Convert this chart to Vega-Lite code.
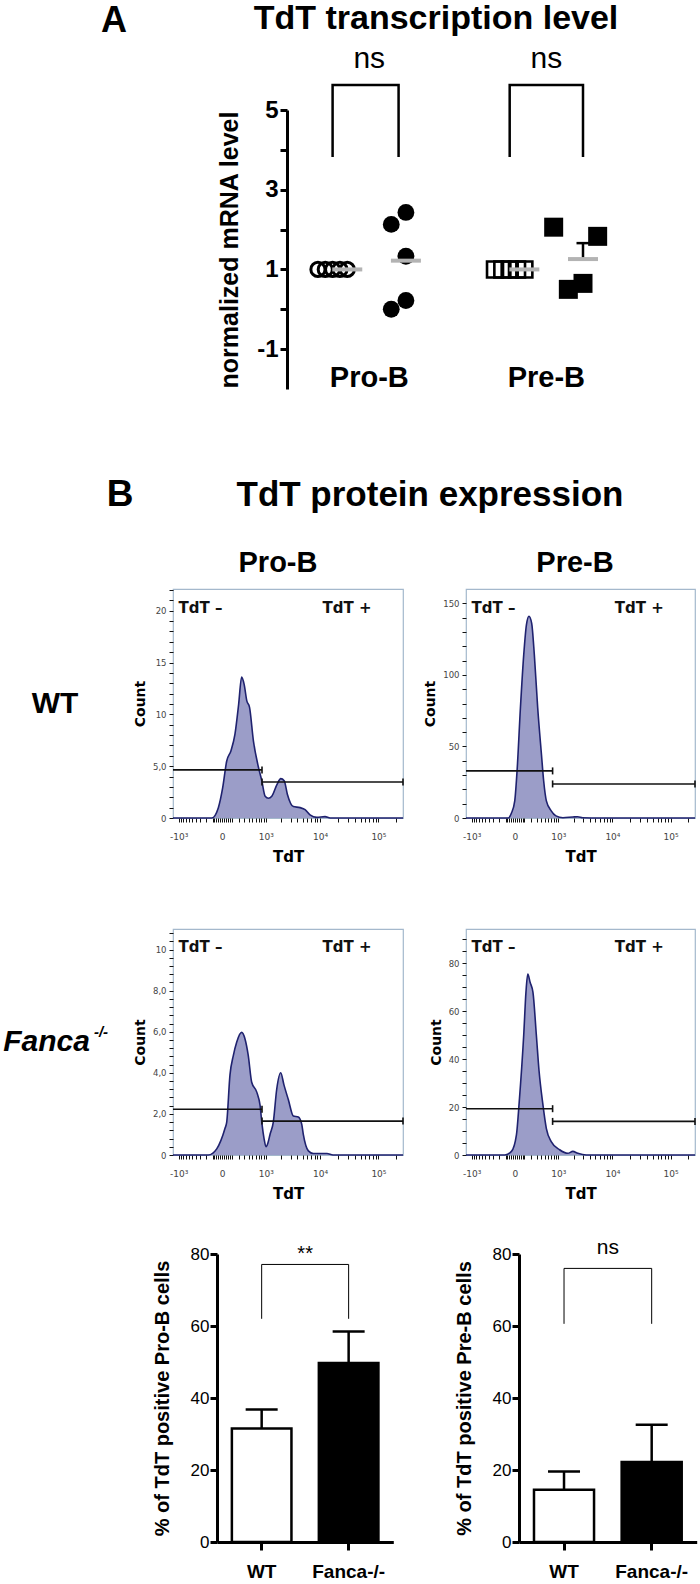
{
  "$schema": "https://vega.github.io/schema/vega-lite/v6.json",
  "padding": 0,
  "background": "white",
  "bounds": "full",
  "spacing": 0,
  "config": {
    "view": {"stroke": null},
    "font": "Liberation Sans",
    "axis": {"grid": false, "labelColor": "#000", "titleColor": "#000", "labelOverlap": false, "labelFlush": false},
    "text": {"color": "#000"}
  },
  "datasets": {
    "mrnaPts": [
      {"cell": "Pro-B", "geno": "WT", "slot": 0, "val": 1},
      {"cell": "Pro-B", "geno": "WT", "slot": 1, "val": 1},
      {"cell": "Pro-B", "geno": "WT", "slot": 2, "val": 1},
      {"cell": "Pro-B", "geno": "WT", "slot": 3, "val": 1},
      {"cell": "Pro-B", "geno": "WT", "slot": 4, "val": 1},
      {"cell": "Pro-B", "geno": "Fanca", "slot": 12, "val": 2.43},
      {"cell": "Pro-B", "geno": "Fanca", "slot": 10, "val": 2.13},
      {"cell": "Pro-B", "geno": "Fanca", "slot": 12, "val": 1.33},
      {"cell": "Pro-B", "geno": "Fanca", "slot": 12, "val": 0.22},
      {"cell": "Pro-B", "geno": "Fanca", "slot": 10, "val": 0.0},
      {"cell": "Pre-B", "geno": "WT", "slot": 0, "val": 1},
      {"cell": "Pre-B", "geno": "WT", "slot": 1, "val": 1},
      {"cell": "Pre-B", "geno": "WT", "slot": 2, "val": 1},
      {"cell": "Pre-B", "geno": "WT", "slot": 3, "val": 1},
      {"cell": "Pre-B", "geno": "WT", "slot": 4, "val": 1},
      {"cell": "Pre-B", "geno": "Fanca", "slot": 8, "val": 2.06},
      {"cell": "Pre-B", "geno": "Fanca", "slot": 14, "val": 1.83},
      {"cell": "Pre-B", "geno": "Fanca", "slot": 12, "val": 0.65},
      {"cell": "Pre-B", "geno": "Fanca", "slot": 10, "val": 0.5}
    ],
    "mrnaMean": [
      {"cell": "Pro-B", "geno": "WT", "slot": 4, "mean": 1, "upper": 1},
      {"cell": "Pro-B", "geno": "Fanca", "slot": 12, "mean": 1.22, "upper": 1.22},
      {"cell": "Pre-B", "geno": "WT", "slot": 4, "mean": 1, "upper": 1},
      {"cell": "Pre-B", "geno": "Fanca", "slot": 12, "mean": 1.26, "upper": 1.66}
    ],
    "mrnaBracket": [
      {"cell": "Pro-B", "slot": 2, "y": 3.82, "ord": 1},
      {"cell": "Pro-B", "slot": 2, "y": 5.63, "ord": 2},
      {"cell": "Pro-B", "slot": 11, "y": 5.63, "ord": 3},
      {"cell": "Pro-B", "slot": 11, "y": 3.82, "ord": 4},
      {"cell": "Pre-B", "slot": 2, "y": 3.82, "ord": 1},
      {"cell": "Pre-B", "slot": 2, "y": 5.63, "ord": 2},
      {"cell": "Pre-B", "slot": 12, "y": 5.63, "ord": 3},
      {"cell": "Pre-B", "slot": 12, "y": 3.82, "ord": 4}
    ],
    "hWTpro": [
      {"tdt": -1300, "count": 0}, {"tdt": -112, "count": 0}, {"tdt": -36, "count": 1.0}, {"tdt": 4, "count": 2.9},
      {"tdt": 43, "count": 5.5}, {"tdt": 91, "count": 6.5}, {"tdt": 144, "count": 8.1}, {"tdt": 201, "count": 11.0},
      {"tdt": 253, "count": 13.6}, {"tdt": 302, "count": 12.9}, {"tdt": 360, "count": 11.3}, {"tdt": 424, "count": 10.7},
      {"tdt": 533, "count": 7.4}, {"tdt": 695, "count": 4.9}, {"tdt": 823, "count": 3.6}, {"tdt": 970, "count": 2.1},
      {"tdt": 1133, "count": 1.9}, {"tdt": 1323, "count": 2.1}, {"tdt": 1659, "count": 3.2}, {"tdt": 1975, "count": 3.8},
      {"tdt": 2290, "count": 3.6}, {"tdt": 2620, "count": 2.3}, {"tdt": 3375, "count": 1.1}, {"tdt": 4450, "count": 1.0},
      {"tdt": 5460, "count": 0.8}, {"tdt": 6680, "count": 0.3}, {"tdt": 8740, "count": 0.06}, {"tdt": 12200, "count": 0.13},
      {"tdt": 14900, "count": 0}, {"tdt": 262144, "count": 0}
    ],
    "hWTpre": [
      {"tdt": -1300, "count": 0}, {"tdt": -69, "count": 0}, {"tdt": -33, "count": 3.5}, {"tdt": -2, "count": 12},
      {"tdt": 19, "count": 33}, {"tdt": 53, "count": 77}, {"tdt": 91, "count": 114}, {"tdt": 126, "count": 135},
      {"tdt": 163, "count": 141}, {"tdt": 206, "count": 136}, {"tdt": 253, "count": 114}, {"tdt": 320, "count": 77},
      {"tdt": 406, "count": 44.5}, {"tdt": 463, "count": 26}, {"tdt": 540, "count": 12}, {"tdt": 700, "count": 5},
      {"tdt": 888, "count": 1.5}, {"tdt": 1240, "count": 0.2}, {"tdt": 1934, "count": 0.7}, {"tdt": 2400, "count": 0.9},
      {"tdt": 2950, "count": 0.2}, {"tdt": 6000, "count": 0}, {"tdt": 262144, "count": 0}
    ],
    "hFApro": [
      {"tdt": -1300, "count": 0}, {"tdt": -160, "count": 0}, {"tdt": -53, "count": 0.3}, {"tdt": 26, "count": 1.3},
      {"tdt": 43, "count": 1.6}, {"tdt": 79, "count": 3.9}, {"tdt": 121, "count": 4.84}, {"tdt": 169, "count": 5.49},
      {"tdt": 253, "count": 5.97}, {"tdt": 320, "count": 5.65}, {"tdt": 394, "count": 4.84}, {"tdt": 482, "count": 3.54},
      {"tdt": 637, "count": 3.06}, {"tdt": 757, "count": 2.4}, {"tdt": 832, "count": 1.5}, {"tdt": 920, "count": 0.8},
      {"tdt": 1011, "count": 0.4}, {"tdt": 1110, "count": 0.6}, {"tdt": 1220, "count": 1.0}, {"tdt": 1418, "count": 1.6},
      {"tdt": 1652, "count": 3.2}, {"tdt": 1970, "count": 4.0}, {"tdt": 2272, "count": 3.4}, {"tdt": 2728, "count": 2.7},
      {"tdt": 3367, "count": 1.9}, {"tdt": 4144, "count": 1.85}, {"tdt": 4762, "count": 1.5}, {"tdt": 5084, "count": 1.0},
      {"tdt": 6238, "count": 0.2}, {"tdt": 7637, "count": 0.07}, {"tdt": 13165, "count": 0.07}, {"tdt": 16761, "count": 0},
      {"tdt": 262144, "count": 0}
    ],
    "hFApre": [
      {"tdt": -1300, "count": 0}, {"tdt": -109, "count": 0}, {"tdt": -33, "count": 1.5}, {"tdt": 13, "count": 8.4},
      {"tdt": 40, "count": 22}, {"tdt": 91, "count": 50}, {"tdt": 120, "count": 68}, {"tdt": 145, "count": 75.4},
      {"tdt": 180, "count": 72}, {"tdt": 228, "count": 67.8}, {"tdt": 292, "count": 50}, {"tdt": 350, "count": 35},
      {"tdt": 435, "count": 22}, {"tdt": 540, "count": 11}, {"tdt": 700, "count": 5.6}, {"tdt": 1060, "count": 2.2},
      {"tdt": 1551, "count": 0.7}, {"tdt": 1934, "count": 1.5}, {"tdt": 2400, "count": 0.7}, {"tdt": 3422, "count": 0},
      {"tdt": 262144, "count": 0}
    ],
    "gWTpro": [{"gate": "TdT –", "tdt": -1300, "tdt2": 832, "count": 4.64}, {"gate": "TdT +", "tdt": 832, "tdt2": 262144, "count": 3.48}],
    "gWTpre": [{"gate": "TdT –", "tdt": -1300, "tdt2": 752, "count": 32.9}, {"gate": "TdT +", "tdt": 752, "tdt2": 262144, "count": 23.8}],
    "gFApro": [{"gate": "TdT –", "tdt": -1300, "tdt2": 832, "count": 2.23}, {"gate": "TdT +", "tdt": 832, "tdt2": 262144, "count": 1.65}],
    "gFApre": [{"gate": "TdT –", "tdt": -1300, "tdt2": 752, "count": 19.3}, {"gate": "TdT +", "tdt": 752, "tdt2": 262144, "count": 14.0}],
    "cWTpro": [{"tdt": 832, "count": 4.64}, {"tdt": 832, "count": 3.48}, {"tdt": 262144, "count": 3.48}],
    "cWTpre": [{"tdt": 752, "count": 32.9}, {"tdt": 752, "count": 23.8}, {"tdt": 262144, "count": 23.8}],
    "cFApro": [{"tdt": 832, "count": 2.23}, {"tdt": 832, "count": 1.65}, {"tdt": 262144, "count": 1.65}],
    "cFApre": [{"tdt": 752, "count": 19.3}, {"tdt": 752, "count": 14.0}, {"tdt": 262144, "count": 14.0}],
    "lWTpro": [{"t": "TdT –", "tdt": -1000, "count": 20.3}, {"t": "TdT +", "tdt": 11000, "count": 20.3}],
    "lWTpre": [{"t": "TdT –", "tdt": -1000, "count": 146.5}, {"t": "TdT +", "tdt": 11000, "count": 146.5}],
    "lFApro": [{"t": "TdT –", "tdt": -1000, "count": 10.1}, {"t": "TdT +", "tdt": 11000, "count": 10.1}],
    "lFApre": [{"t": "TdT –", "tdt": -1000, "count": 86.7}, {"t": "TdT +", "tdt": 11000, "count": 86.7}],
    "barsPro": [{"geno": "WT", "mean": 31.5, "upper": 36.8}, {"geno": "Fanca-/-", "mean": 49.7, "upper": 58.5}],
    "barsPre": [{"geno": "WT", "mean": 14.5, "upper": 19.6}, {"geno": "Fanca-/-", "mean": 22.2, "upper": 32.6}]
  },
  "vconcat": [
    {
      "hconcat": [
        {"width": 228, "height": 42, "data": {"values": [{"t": "A"}]}, "mark": {"type": "text", "fontSize": 36, "fontWeight": "bold"}, "encoding": {"text": {"field": "t"}}},
        {
          "vconcat": [
            {"width": 416, "height": 38, "data": {"values": [{"t": "TdT transcription level"}]}, "mark": {"type": "text", "fontSize": 34, "fontWeight": "bold"}, "encoding": {"text": {"field": "t"}}},
            {"width": 1, "height": 72, "data": {"values": []}, "mark": {"type": "point", "opacity": 0}},
            {
              "hconcat": [
                {"width": 59, "height": 1, "data": {"values": []}, "mark": {"type": "point", "opacity": 0}},
                {
                  "width": 341.6, "height": 279,
                  "encoding": {
                    "x": {"field": "cell", "type": "nominal", "title": null,
                      "scale": {"type": "band", "domain": ["Pro-B", "Pre-B"], "paddingInner": 0.379, "paddingOuter": 0.154},
                      "axis": {"orient": "bottom", "domain": false, "ticks": false, "tickSize": 0, "labelPadding": 0, "offset": -12, "labelBaseline": "middle", "labelFontSize": 29, "labelFontWeight": "bold", "labelAngle": 0, "title": null}}
                  },
                  "layer": [
                    {"data": {"name": "mrnaPts"}, "transform": [{"filter": "datum.cell == 'Pro-B' && datum.geno == 'WT'"}],
                      "mark": {"type": "point", "shape": "circle", "filled": false, "stroke": "#000", "strokeWidth": 3, "size": 200, "opacity": 1},
                      "encoding": {
                        "xOffset": {"field": "slot", "type": "ordinal", "scale": {"domain": [0,1,2,3,4,5,6,7,8,9,10,11,12,13,14], "paddingInner": 0, "paddingOuter": 0}},
                        "y": {"field": "val", "type": "quantitative", "title": "normalized mRNA level", "scale": {"domain": [-2, 5], "nice": false, "zero": false},
                          "axis": {"values": [-1,0,1,2,3,4,5], "labelExpr": "datum.value % 2 != 0 ? (datum.value < 0 ? '-1' : datum.label) : ''", "domainColor": "#000", "domainWidth": 3, "tickColor": "#000", "tickWidth": 3, "tickSize": 7, "labelFontSize": 24, "labelFontWeight": "bold", "labelPadding": 2, "title": "normalized mRNA level", "titleFontSize": 25, "titleFontWeight": "bold", "titlePadding": 14}}
                      }},
                    {"data": {"name": "mrnaPts"}, "transform": [{"filter": "datum.cell == 'Pro-B' && datum.geno == 'Fanca'"}],
                      "mark": {"type": "point", "shape": "circle", "filled": true, "fill": "#000", "size": 283, "opacity": 1},
                      "encoding": {"xOffset": {"field": "slot", "type": "ordinal"}, "y": {"field": "val", "type": "quantitative", "title": "normalized mRNA level"}}},
                    {"data": {"name": "mrnaPts"}, "transform": [{"filter": "datum.cell == 'Pre-B' && datum.geno == 'WT'"}],
                      "mark": {"type": "point", "shape": "square", "filled": false, "stroke": "#000", "strokeWidth": 2.6, "size": 256, "opacity": 1},
                      "encoding": {"xOffset": {"field": "slot", "type": "ordinal"}, "y": {"field": "val", "type": "quantitative", "title": "normalized mRNA level"}}},
                    {"data": {"name": "mrnaPts"}, "transform": [{"filter": "datum.cell == 'Pre-B' && datum.geno == 'Fanca'"}],
                      "mark": {"type": "point", "shape": "square", "filled": true, "fill": "#000", "size": 361, "opacity": 1},
                      "encoding": {"xOffset": {"field": "slot", "type": "ordinal"}, "y": {"field": "val", "type": "quantitative", "title": "normalized mRNA level"}}},
                    {"data": {"name": "mrnaMean"}, "transform": [{"filter": "datum.upper > datum.mean"}],
                      "mark": {"type": "rule", "color": "#000", "strokeWidth": 2.5},
                      "encoding": {"xOffset": {"field": "slot", "type": "ordinal"}, "y": {"field": "mean", "type": "quantitative", "title": "normalized mRNA level"}, "y2": {"field": "upper"}}},
                    {"data": {"name": "mrnaMean"}, "transform": [{"filter": "datum.upper > datum.mean"}],
                      "mark": {"type": "tick", "color": "#000", "thickness": 2.5, "size": 13, "opacity": 1},
                      "encoding": {"xOffset": {"field": "slot", "type": "ordinal"}, "y": {"field": "upper", "type": "quantitative", "title": "normalized mRNA level"}}},
                    {"data": {"name": "mrnaMean"},
                      "mark": {"type": "tick", "color": "#b3b3b3", "thickness": 4, "size": 30, "opacity": 1},
                      "encoding": {"xOffset": {"field": "slot", "type": "ordinal"}, "y": {"field": "mean", "type": "quantitative", "title": "normalized mRNA level"}}},
                    {"data": {"name": "mrnaBracket"},
                      "mark": {"type": "line", "color": "#000", "strokeWidth": 2.5},
                      "encoding": {"xOffset": {"field": "slot", "type": "ordinal"}, "y": {"field": "y", "type": "quantitative", "title": "normalized mRNA level"}, "detail": {"field": "cell"}, "order": {"field": "ord"}}},
                    {"data": {"values": [{"cell": "Pro-B", "t": "ns"}, {"cell": "Pre-B", "t": "ns"}]},
                      "mark": {"type": "text", "fontSize": 30},
                      "encoding": {"y": {"datum": 6.27, "type": "quantitative", "title": "normalized mRNA level"}, "text": {"field": "t"}}}
                  ]
                }
              ],
              "spacing": 0, "bounds": "flush"
            }
          ],
          "spacing": 0, "bounds": "flush"
        },
        {"width": 1, "height": 476, "data": {"values": []}, "mark": {"type": "point", "opacity": 0}}
      ],
      "spacing": 0, "bounds": "flush"
    },
    {
      "hconcat": [
        {"width": 240, "height": 38, "data": {"values": [{"t": "B"}]}, "mark": {"type": "text", "fontSize": 37, "fontWeight": "bold"}, "encoding": {"text": {"field": "t"}}},
        {"width": 380, "height": 38, "data": {"values": [{"t": "TdT protein expression"}]}, "mark": {"type": "text", "fontSize": 35, "fontWeight": "bold"}, "encoding": {"text": {"field": "t"}}},
        {"width": 1, "height": 72, "data": {"values": []}, "mark": {"type": "point", "opacity": 0}}
      ],
      "spacing": 0, "bounds": "flush"
    },
    {
      "hconcat": [
        {"width": 556, "height": 30, "data": {"values": [{"t": "Pro-B"}]}, "mark": {"type": "text", "fontSize": 29, "fontWeight": "bold"}, "encoding": {"text": {"field": "t"}}},
        {"width": 38, "height": 30, "data": {"values": [{"t": "Pre-B"}]}, "mark": {"type": "text", "fontSize": 29, "fontWeight": "bold"}, "encoding": {"text": {"field": "t"}}},
        {"width": 1, "height": 37, "data": {"values": []}, "mark": {"type": "point", "opacity": 0}}
      ],
      "spacing": 0, "bounds": "flush"
    },
    {
      "hconcat": [
        {"width": 110, "height": 229, "data": {"values": [{"t": "WT"}]}, "mark": {"type": "text", "fontSize": 30, "fontWeight": "bold"}, "encoding": {"text": {"field": "t"}}},
        {"width": 63, "height": 1, "data": {"values": []}, "mark": {"type": "point", "opacity": 0}},
        {
          "width": 230, "height": 229,
          "view": {"stroke": "#a4b8cc", "strokeWidth": 1.2},
          "encoding": {
            "x": {"field": "tdt", "type": "quantitative", "title": "TdT", "scale": {"type": "symlog", "constant": 222, "domain": [-1300, 262144], "nice": false, "zero": false},
              "axis": {"title": "TdT", "titleFont": "DejaVu Sans", "titleFontSize": 15, "titleFontWeight": "bold", "titlePadding": 8,
                "values": [-1000,-900,-800,-700,-600,-500,-400,-300,-200,-100,-80,-60,-40,-20,0,20,40,60,80,100,200,300,400,500,600,700,800,900,1000,2000,3000,4000,5000,6000,7000,8000,9000,10000,20000,30000,40000,50000,60000,70000,80000,90000,100000,200000],
                "labelExpr": "datum.value == -1000 ? '-10³' : datum.value == 0 ? '0' : datum.value == 1000 ? '10³' : datum.value == 10000 ? '10⁴' : datum.value == 100000 ? '10⁵' : ''",
                "labelFont": "DejaVu Sans", "labelFontSize": 9, "labelColor": "#444", "labelPadding": 10, "labelOverlap": false,
                "domain": false, "tickColor": "#111", "tickWidth": 1, "tickSize": 4}},
            "y": {"field": "count", "type": "quantitative", "title": "Count", "scale": {"domain": [0, 22.1], "nice": false},
              "axis": {"title": "Count", "titleFont": "DejaVu Sans", "titleFontSize": 14, "titleFontWeight": "bold", "titlePadding": 5,
                "values": [0,1,2,3,4,5,6,7,8,9,10,11,12,13,14,15,16,17,18,19,20,21,22],
                "labelExpr": "datum.value == 5 ? '5,0' : (datum.value % 5 == 0 ? datum.label : '')",
                "labelFont": "DejaVu Sans", "labelFontSize": 8.5, "labelColor": "#444", "labelPadding": 3, "labelOverlap": false,
                "domain": false, "tickColor": "#111", "tickWidth": 1, "tickSize": 4}}
          },
          "layer": [
            {"data": {"name": "hWTpro"}, "mark": {"type": "area", "interpolate": "monotone", "color": "#9b9dc8", "opacity": 1, "line": {"color": "#1f226f", "strokeWidth": 1.6}}},
            {"data": {"name": "gWTpro"}, "mark": {"type": "rule", "color": "#111", "strokeWidth": 1.6}, "encoding": {"x2": {"field": "tdt2"}}},
            {"data": {"name": "cWTpro"}, "mark": {"type": "tick", "orient": "vertical", "color": "#111", "thickness": 1.6, "size": 7, "opacity": 1}},
            {"data": {"name": "lWTpro"}, "mark": {"type": "text", "font": "DejaVu Sans", "fontWeight": "bold", "fontSize": 15, "align": "left", "color": "#111"}, "encoding": {"text": {"field": "t"}}}
          ]
        },
        {"width": 63, "height": 1, "data": {"values": []}, "mark": {"type": "point", "opacity": 0}},
        {
          "width": 229, "height": 229,
          "view": {"stroke": "#a4b8cc", "strokeWidth": 1.2},
          "encoding": {
            "x": {"field": "tdt", "type": "quantitative", "title": "TdT", "scale": {"type": "symlog", "constant": 222, "domain": [-1300, 262144], "nice": false, "zero": false},
              "axis": {"title": "TdT", "titleFont": "DejaVu Sans", "titleFontSize": 15, "titleFontWeight": "bold", "titlePadding": 8,
                "values": [-1000,-900,-800,-700,-600,-500,-400,-300,-200,-100,-80,-60,-40,-20,0,20,40,60,80,100,200,300,400,500,600,700,800,900,1000,2000,3000,4000,5000,6000,7000,8000,9000,10000,20000,30000,40000,50000,60000,70000,80000,90000,100000,200000],
                "labelExpr": "datum.value == -1000 ? '-10³' : datum.value == 0 ? '0' : datum.value == 1000 ? '10³' : datum.value == 10000 ? '10⁴' : datum.value == 100000 ? '10⁵' : ''",
                "labelFont": "DejaVu Sans", "labelFontSize": 9, "labelColor": "#444", "labelPadding": 10, "labelOverlap": false,
                "domain": false, "tickColor": "#111", "tickWidth": 1, "tickSize": 4}},
            "y": {"field": "count", "type": "quantitative", "title": "Count", "scale": {"domain": [0, 160], "nice": false},
              "axis": {"title": "Count", "titleFont": "DejaVu Sans", "titleFontSize": 14, "titleFontWeight": "bold", "titlePadding": 5,
                "values": [0,10,20,30,40,50,60,70,80,90,100,110,120,130,140,150],
                "labelExpr": "datum.value % 50 == 0 ? datum.label : ''",
                "labelFont": "DejaVu Sans", "labelFontSize": 8.5, "labelColor": "#444", "labelPadding": 3, "labelOverlap": false,
                "domain": false, "tickColor": "#111", "tickWidth": 1, "tickSize": 4}}
          },
          "layer": [
            {"data": {"name": "hWTpre"}, "mark": {"type": "area", "interpolate": "monotone", "color": "#9b9dc8", "opacity": 1, "line": {"color": "#1f226f", "strokeWidth": 1.6}}},
            {"data": {"name": "gWTpre"}, "mark": {"type": "rule", "color": "#111", "strokeWidth": 1.6}, "encoding": {"x2": {"field": "tdt2"}}},
            {"data": {"name": "cWTpre"}, "mark": {"type": "tick", "orient": "vertical", "color": "#111", "thickness": 1.6, "size": 7, "opacity": 1}},
            {"data": {"name": "lWTpre"}, "mark": {"type": "text", "font": "DejaVu Sans", "fontWeight": "bold", "fontSize": 15, "align": "left", "color": "#111"}, "encoding": {"text": {"field": "t"}}}
          ]
        },
        {"width": 1, "height": 339, "data": {"values": []}, "mark": {"type": "point", "opacity": 0}}
      ],
      "spacing": 0, "bounds": "flush"
    },
    {
      "hconcat": [
        {"width": 93, "height": 226, "data": {"values": [{"t": "Fanca"}]}, "mark": {"type": "text", "fontSize": 30, "fontWeight": "bold", "fontStyle": "italic"}, "encoding": {"text": {"field": "t"}}},
        {"width": 16, "height": 206, "data": {"values": [{"t": "-/-"}]}, "mark": {"type": "text", "fontSize": 15, "fontWeight": "bold", "fontStyle": "italic"}, "encoding": {"text": {"field": "t"}}},
        {"width": 64, "height": 1, "data": {"values": []}, "mark": {"type": "point", "opacity": 0}},
        {
          "width": 230, "height": 226,
          "view": {"stroke": "#a4b8cc", "strokeWidth": 1.2},
          "encoding": {
            "x": {"field": "tdt", "type": "quantitative", "title": "TdT", "scale": {"type": "symlog", "constant": 222, "domain": [-1300, 262144], "nice": false, "zero": false},
              "axis": {"title": "TdT", "titleFont": "DejaVu Sans", "titleFontSize": 15, "titleFontWeight": "bold", "titlePadding": 8,
                "values": [-1000,-900,-800,-700,-600,-500,-400,-300,-200,-100,-80,-60,-40,-20,0,20,40,60,80,100,200,300,400,500,600,700,800,900,1000,2000,3000,4000,5000,6000,7000,8000,9000,10000,20000,30000,40000,50000,60000,70000,80000,90000,100000,200000],
                "labelExpr": "datum.value == -1000 ? '-10³' : datum.value == 0 ? '0' : datum.value == 1000 ? '10³' : datum.value == 10000 ? '10⁴' : datum.value == 100000 ? '10⁵' : ''",
                "labelFont": "DejaVu Sans", "labelFontSize": 9, "labelColor": "#444", "labelPadding": 10, "labelOverlap": false,
                "domain": false, "tickColor": "#111", "tickWidth": 1, "tickSize": 4}},
            "y": {"field": "count", "type": "quantitative", "title": "Count", "scale": {"domain": [0, 11], "nice": false},
              "axis": {"title": "Count", "titleFont": "DejaVu Sans", "titleFontSize": 14, "titleFontWeight": "bold", "titlePadding": 5,
                "values": [0,0.4,0.8,1.2,1.6,2,2.4,2.8,3.2,3.6,4,4.4,4.8,5.2,5.6,6,6.4,6.8,7.2,7.6,8,8.4,8.8,9.2,9.6,10,10.4,10.8],
                "labelExpr": "datum.value == 10 ? '10' : datum.value == 0 ? '0' : (indexof([2,4,6,8], datum.value) >= 0 ? datum.value + ',0' : '')",
                "labelFont": "DejaVu Sans", "labelFontSize": 8.5, "labelColor": "#444", "labelPadding": 3, "labelOverlap": false,
                "domain": false, "tickColor": "#111", "tickWidth": 1, "tickSize": 4}}
          },
          "layer": [
            {"data": {"name": "hFApro"}, "mark": {"type": "area", "interpolate": "monotone", "color": "#9b9dc8", "opacity": 1, "line": {"color": "#1f226f", "strokeWidth": 1.6}}},
            {"data": {"name": "gFApro"}, "mark": {"type": "rule", "color": "#111", "strokeWidth": 1.6}, "encoding": {"x2": {"field": "tdt2"}}},
            {"data": {"name": "cFApro"}, "mark": {"type": "tick", "orient": "vertical", "color": "#111", "thickness": 1.6, "size": 7, "opacity": 1}},
            {"data": {"name": "lFApro"}, "mark": {"type": "text", "font": "DejaVu Sans", "fontWeight": "bold", "fontSize": 15, "align": "left", "color": "#111"}, "encoding": {"text": {"field": "t"}}}
          ]
        },
        {"width": 63, "height": 1, "data": {"values": []}, "mark": {"type": "point", "opacity": 0}},
        {
          "width": 229, "height": 226,
          "view": {"stroke": "#a4b8cc", "strokeWidth": 1.2},
          "encoding": {
            "x": {"field": "tdt", "type": "quantitative", "title": "TdT", "scale": {"type": "symlog", "constant": 222, "domain": [-1300, 262144], "nice": false, "zero": false},
              "axis": {"title": "TdT", "titleFont": "DejaVu Sans", "titleFontSize": 15, "titleFontWeight": "bold", "titlePadding": 8,
                "values": [-1000,-900,-800,-700,-600,-500,-400,-300,-200,-100,-80,-60,-40,-20,0,20,40,60,80,100,200,300,400,500,600,700,800,900,1000,2000,3000,4000,5000,6000,7000,8000,9000,10000,20000,30000,40000,50000,60000,70000,80000,90000,100000,200000],
                "labelExpr": "datum.value == -1000 ? '-10³' : datum.value == 0 ? '0' : datum.value == 1000 ? '10³' : datum.value == 10000 ? '10⁴' : datum.value == 100000 ? '10⁵' : ''",
                "labelFont": "DejaVu Sans", "labelFontSize": 9, "labelColor": "#444", "labelPadding": 10, "labelOverlap": false,
                "domain": false, "tickColor": "#111", "tickWidth": 1, "tickSize": 4}},
            "y": {"field": "count", "type": "quantitative", "title": "Count", "scale": {"domain": [0, 94.2], "nice": false},
              "axis": {"title": "Count", "titleFont": "DejaVu Sans", "titleFontSize": 14, "titleFontWeight": "bold", "titlePadding": 5,
                "values": [0,5,10,15,20,25,30,35,40,45,50,55,60,65,70,75,80,85,90],
                "labelExpr": "datum.value % 20 == 0 ? datum.label : ''",
                "labelFont": "DejaVu Sans", "labelFontSize": 8.5, "labelColor": "#444", "labelPadding": 3, "labelOverlap": false,
                "domain": false, "tickColor": "#111", "tickWidth": 1, "tickSize": 4}}
          },
          "layer": [
            {"data": {"name": "hFApre"}, "mark": {"type": "area", "interpolate": "monotone", "color": "#9b9dc8", "opacity": 1, "line": {"color": "#1f226f", "strokeWidth": 1.6}}},
            {"data": {"name": "gFApre"}, "mark": {"type": "rule", "color": "#111", "strokeWidth": 1.6}, "encoding": {"x2": {"field": "tdt2"}}},
            {"data": {"name": "cFApre"}, "mark": {"type": "tick", "orient": "vertical", "color": "#111", "thickness": 1.6, "size": 7, "opacity": 1}},
            {"data": {"name": "lFApre"}, "mark": {"type": "text", "font": "DejaVu Sans", "fontWeight": "bold", "fontSize": 15, "align": "left", "color": "#111"}, "encoding": {"text": {"field": "t"}}}
          ]
        },
        {"width": 1, "height": 295, "data": {"values": []}, "mark": {"type": "point", "opacity": 0}}
      ],
      "spacing": 0, "bounds": "flush"
    },
    {
      "vconcat": [
        {"width": 1, "height": 30, "data": {"values": []}, "mark": {"type": "point", "opacity": 0}},
        {
          "hconcat": [
            {"width": 216.7, "height": 1, "data": {"values": []}, "mark": {"type": "point", "opacity": 0}},
            {
              "width": 176.3, "height": 288,
              "data": {"name": "barsPro"},
              "layer": [
                {"mark": {"type": "bar", "stroke": "#000", "strokeWidth": 2.5},
                  "encoding": {
                    "x": {"field": "geno", "type": "nominal", "title": null, "sort": null, "scale": {"domain": ["WT", "Fanca-/-"], "paddingInner": 0.315, "paddingOuter": 0.171},
                      "axis": {"title": null, "labelFontSize": 19, "labelFontWeight": "bold", "labelPadding": 12, "labelAngle": 0, "domainColor": "#000", "domainWidth": 3, "tickColor": "#000", "tickWidth": 3, "tickSize": 8}},
                    "y": {"field": "mean", "type": "quantitative", "title": "% of TdT positive Pro-B cells", "scale": {"domain": [0, 80], "nice": false},
                      "axis": {"values": [0, 20, 40, 60, 80], "title": "% of TdT positive Pro-B cells", "titleFontSize": 20, "titleFontWeight": "bold", "titlePadding": 18, "labelFontSize": 17, "labelPadding": 1, "domainColor": "#000", "domainWidth": 3, "tickColor": "#000", "tickWidth": 3, "tickSize": 7}},
                    "fill": {"field": "geno", "type": "nominal", "scale": {"domain": ["WT", "Fanca-/-"], "range": ["#ffffff", "#000000"]}, "legend": null}
                  }},
                {"mark": {"type": "rule", "color": "#000", "strokeWidth": 2.5},
                  "encoding": {"x": {"field": "geno", "type": "nominal", "title": null}, "y": {"field": "mean", "type": "quantitative", "title": "% of TdT positive Pro-B cells"}, "y2": {"field": "upper"}}},
                {"mark": {"type": "tick", "color": "#000", "thickness": 2.5, "size": 32, "opacity": 1},
                  "encoding": {"x": {"field": "geno", "type": "nominal", "title": null}, "y": {"field": "upper", "type": "quantitative", "title": "% of TdT positive Pro-B cells"}}},
                {"mark": {"type": "rule", "color": "#000", "strokeWidth": 1},
                  "encoding": {"x": {"field": "geno", "type": "nominal", "title": null}, "y": {"datum": 62, "type": "quantitative", "title": "% of TdT positive Pro-B cells"}, "y2": {"datum": 77.1}}},
                {"data": {"values": [{"t": "**"}]}, "mark": {"type": "rule", "color": "#000", "strokeWidth": 1},
                  "encoding": {"x": {"datum": "WT", "type": "nominal", "title": null}, "x2": {"datum": "Fanca-/-"}, "y": {"datum": 77.1, "type": "quantitative", "title": "% of TdT positive Pro-B cells"}}},
                {"data": {"values": [{"t": "**"}]}, "mark": {"type": "text", "fontSize": 20},
                  "encoding": {"y": {"datum": 80, "type": "quantitative", "title": "% of TdT positive Pro-B cells"}, "text": {"field": "t"}}}
              ]
            },
            {"width": 124.3, "height": 1, "data": {"values": []}, "mark": {"type": "point", "opacity": 0}},
            {
              "width": 177.7, "height": 288,
              "data": {"name": "barsPre"},
              "layer": [
                {"mark": {"type": "bar", "stroke": "#000", "strokeWidth": 2.5},
                  "encoding": {
                    "x": {"field": "geno", "type": "nominal", "title": null, "sort": null, "scale": {"domain": ["WT", "Fanca-/-"], "paddingInner": 0.315, "paddingOuter": 0.171},
                      "axis": {"title": null, "labelFontSize": 19, "labelFontWeight": "bold", "labelPadding": 12, "labelAngle": 0, "domainColor": "#000", "domainWidth": 3, "tickColor": "#000", "tickWidth": 3, "tickSize": 8}},
                    "y": {"field": "mean", "type": "quantitative", "title": "% of TdT positive Pre-B cells", "scale": {"domain": [0, 80], "nice": false},
                      "axis": {"values": [0, 20, 40, 60, 80], "title": "% of TdT positive Pre-B cells", "titleFontSize": 20, "titleFontWeight": "bold", "titlePadding": 18, "labelFontSize": 17, "labelPadding": 1, "domainColor": "#000", "domainWidth": 3, "tickColor": "#000", "tickWidth": 3, "tickSize": 7}},
                    "fill": {"field": "geno", "type": "nominal", "scale": {"domain": ["WT", "Fanca-/-"], "range": ["#ffffff", "#000000"]}, "legend": null}
                  }},
                {"mark": {"type": "rule", "color": "#000", "strokeWidth": 2.5},
                  "encoding": {"x": {"field": "geno", "type": "nominal", "title": null}, "y": {"field": "mean", "type": "quantitative", "title": "% of TdT positive Pre-B cells"}, "y2": {"field": "upper"}}},
                {"mark": {"type": "tick", "color": "#000", "thickness": 2.5, "size": 32, "opacity": 1},
                  "encoding": {"x": {"field": "geno", "type": "nominal", "title": null}, "y": {"field": "upper", "type": "quantitative", "title": "% of TdT positive Pre-B cells"}}},
                {"mark": {"type": "rule", "color": "#000", "strokeWidth": 1},
                  "encoding": {"x": {"field": "geno", "type": "nominal", "title": null}, "y": {"datum": 60.6, "type": "quantitative", "title": "% of TdT positive Pre-B cells"}, "y2": {"datum": 76}}},
                {"data": {"values": [{"t": "ns"}]}, "mark": {"type": "rule", "color": "#000", "strokeWidth": 1},
                  "encoding": {"x": {"datum": "WT", "type": "nominal", "title": null}, "x2": {"datum": "Fanca-/-"}, "y": {"datum": 76, "type": "quantitative", "title": "% of TdT positive Pre-B cells"}}},
                {"data": {"values": [{"t": "ns"}]}, "mark": {"type": "text", "fontSize": 21},
                  "encoding": {"y": {"datum": 81.6, "type": "quantitative", "title": "% of TdT positive Pre-B cells"}, "text": {"field": "t"}}}
              ]
            }
          ],
          "spacing": 0, "bounds": "flush"
        }
      ],
      "spacing": 0, "bounds": "flush"
    }
  ]
}
